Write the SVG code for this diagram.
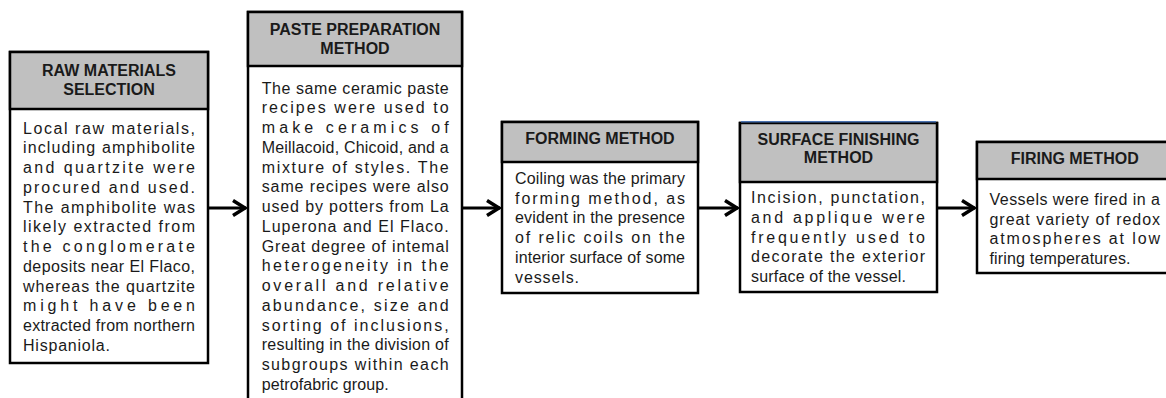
<svg xmlns="http://www.w3.org/2000/svg" width="1166" height="398" viewBox="0 0 1166 398">
<style>
.hd{fill:#c0c0c0;stroke:#000;stroke-width:2.5}
.bd{fill:#fff;stroke:#000;stroke-width:2.5}
.ht{font-family:"Liberation Sans",Arial,sans-serif;font-size:16px;font-weight:bold;fill:#1a1a1a;text-anchor:middle}
.bt{font-family:"Liberation Sans",Arial,sans-serif;font-size:16px;fill:#1a1a1a}
.cn{stroke:#000;stroke-width:3;fill:none}
</style>
<defs>
<marker id="arr" markerUnits="userSpaceOnUse" markerWidth="20" markerHeight="20" refX="14" refY="10" orient="auto">
<path d="M1,2.5 L13,10 L1,17.5" fill="none" stroke="#000" stroke-width="3.5" stroke-linejoin="miter"/>
</marker>
</defs>
<rect width="1166" height="398" fill="#fff"/>

<g id="connectors">
<line class="cn" x1="208" y1="208" x2="246" y2="208" marker-end="url(#arr)"/>
<line class="cn" x1="462" y1="208" x2="500" y2="208" marker-end="url(#arr)"/>
<line class="cn" x1="698" y1="208" x2="738" y2="208" marker-end="url(#arr)"/>
<line class="cn" x1="937" y1="208" x2="975" y2="208" marker-end="url(#arr)"/>
</g>

<g id="raw-materials">
<rect class="bd" x="10" y="52" width="198" height="311"/>
<rect class="hd" x="10" y="52" width="198" height="57"/>
<text class="ht" x="109" y="75.5">RAW MATERIALS</text>
<text class="ht" x="109" y="95">SELECTION</text>
<g class="bt">
<text x="23" y="133.5" textLength="172" lengthAdjust="spacing">Local raw materials,</text>
<text x="23" y="153.25" textLength="172" lengthAdjust="spacing">including amphibolite</text>
<text x="23" y="173" textLength="172" lengthAdjust="spacing">and quartzite were</text>
<text x="23" y="192.75" textLength="172" lengthAdjust="spacing">procured and used.</text>
<text x="23" y="212.5" textLength="172" lengthAdjust="spacing">The amphibolite was</text>
<text x="23" y="232.25" textLength="172" lengthAdjust="spacing">likely extracted from</text>
<text x="23" y="252" textLength="172" lengthAdjust="spacing">the conglomerate</text>
<text x="23" y="271.75" textLength="172" lengthAdjust="spacing">deposits near El Flaco,</text>
<text x="23" y="291.5" textLength="172" lengthAdjust="spacing">whereas the quartzite</text>
<text x="23" y="311.25" textLength="172" lengthAdjust="spacing">might have been</text>
<text x="23" y="331" textLength="172" lengthAdjust="spacing">extracted from northern</text>
<text x="23" y="350.75" textLength="87" lengthAdjust="spacing">Hispaniola.</text>
</g>
</g>

<g id="paste-preparation">
<rect class="bd" x="248" y="12" width="214" height="400"/>
<rect class="hd" x="248" y="12" width="214" height="54"/>
<text class="ht" x="355" y="35">PASTE PREPARATION</text>
<text class="ht" x="355" y="54.3">METHOD</text>
<g class="bt">
<text x="261.7" y="93.5" textLength="187" lengthAdjust="spacing">The same ceramic paste</text>
<text x="261.7" y="113.25" textLength="187" lengthAdjust="spacing">recipes were used to</text>
<text x="261.7" y="133" textLength="187" lengthAdjust="spacing">make ceramics of</text>
<text x="261.7" y="152.75" textLength="187" lengthAdjust="spacing">Meillacoid, Chicoid, and a</text>
<text x="261.7" y="172.5" textLength="187" lengthAdjust="spacing">mixture of styles. The</text>
<text x="261.7" y="192.25" textLength="187" lengthAdjust="spacing">same recipes were also</text>
<text x="261.7" y="212" textLength="187" lengthAdjust="spacing">used by potters from La</text>
<text x="261.7" y="231.75" textLength="187" lengthAdjust="spacing">Luperona and El Flaco.</text>
<text x="261.7" y="251.5" textLength="187" lengthAdjust="spacing">Great degree of intemal</text>
<text x="261.7" y="271.25" textLength="187" lengthAdjust="spacing">heterogeneity in the</text>
<text x="261.7" y="291" textLength="187" lengthAdjust="spacing">overall and relative</text>
<text x="261.7" y="310.75" textLength="187" lengthAdjust="spacing">abundance, size and</text>
<text x="261.7" y="330.5" textLength="187" lengthAdjust="spacing">sorting of inclusions,</text>
<text x="261.7" y="350.25" textLength="187" lengthAdjust="spacing">resulting in the division of</text>
<text x="261.7" y="370" textLength="187" lengthAdjust="spacing">subgroups within each</text>
<text x="261.7" y="389.75" textLength="127" lengthAdjust="spacing">petrofabric group.</text>
</g>
</g>

<g id="forming">
<rect class="bd" x="502" y="122" width="196" height="171"/>
<rect class="hd" x="502" y="122" width="196" height="40"/>
<text class="ht" x="600" y="144.3">FORMING METHOD</text>
<g class="bt">
<text x="515" y="184" textLength="170" lengthAdjust="spacing">Coiling was the primary</text>
<text x="515" y="203.7" textLength="170" lengthAdjust="spacing">forming method, as</text>
<text x="515" y="223.4" textLength="170" lengthAdjust="spacing">evident in the presence</text>
<text x="515" y="243.1" textLength="170" lengthAdjust="spacing">of relic coils on the</text>
<text x="515" y="262.8" textLength="170" lengthAdjust="spacing">interior surface of some</text>
<text x="515" y="282.5" textLength="64" lengthAdjust="spacing">vessels.</text>
</g>
</g>

<g id="surface-finishing">
<rect class="bd" x="740" y="123" width="197" height="169"/>
<rect class="hd" x="740" y="123" width="197" height="59"/>
<line x1="741" y1="121.8" x2="936" y2="121.8" stroke="#4a72b0" stroke-width="1.5"/>
<text class="ht" x="838.5" y="144.5">SURFACE FINISHING</text>
<text class="ht" x="838.5" y="163.3">METHOD</text>
<g class="bt">
<text x="751" y="203" textLength="174" lengthAdjust="spacing">Incision, punctation,</text>
<text x="751" y="222.8" textLength="174" lengthAdjust="spacing">and applique were</text>
<text x="751" y="242.6" textLength="174" lengthAdjust="spacing">frequently used to</text>
<text x="751" y="262.4" textLength="174" lengthAdjust="spacing">decorate the exterior</text>
<text x="751" y="282.2" textLength="155" lengthAdjust="spacing">surface of the vessel.</text>
</g>
</g>

<g id="firing">
<rect class="bd" x="977" y="142" width="200" height="131"/>
<rect class="hd" x="977" y="142" width="200" height="37"/>
<text class="ht" x="1074.7" y="164.3">FIRING METHOD</text>
<g class="bt">
<text x="989.5" y="205" textLength="170.5" lengthAdjust="spacing">Vessels were fired in a</text>
<text x="989.5" y="224.5" textLength="170.5" lengthAdjust="spacing">great variety of redox</text>
<text x="989.5" y="244" textLength="170.5" lengthAdjust="spacing">atmospheres at low</text>
<text x="989.5" y="263.5" textLength="141" lengthAdjust="spacing">firing temperatures.</text>
</g>
</g>
</svg>
